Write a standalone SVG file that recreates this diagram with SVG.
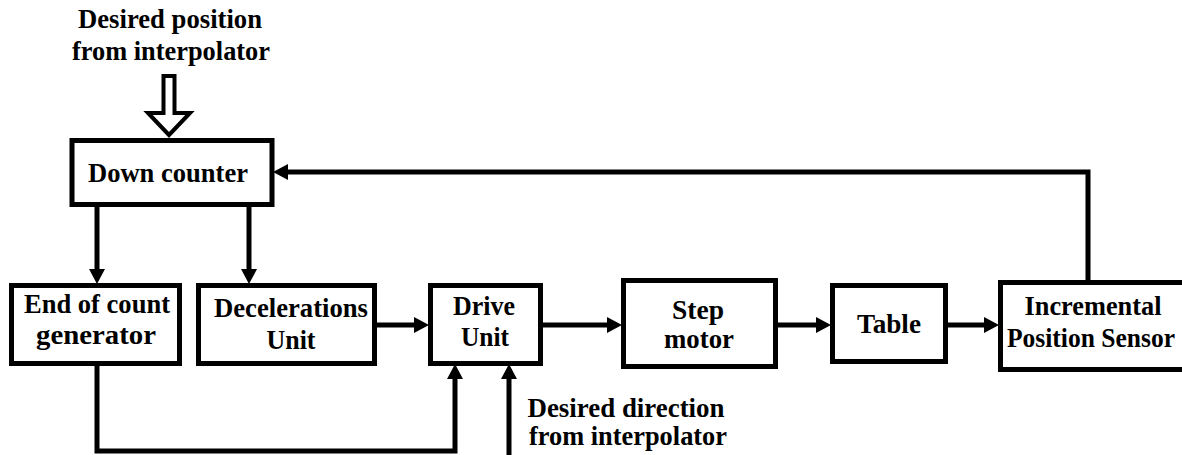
<svg xmlns="http://www.w3.org/2000/svg" width="1182" height="455" viewBox="0 0 1182 455">
<style>
  .box { fill: #fff; stroke: #000; stroke-width: 5; }
  .ln { fill: none; stroke: #000; stroke-width: 5; }
  .hd { fill: #000; stroke: none; }
  text { font-family: "Liberation Serif", "Times New Roman", serif; font-weight: bold; font-size: 28px; fill: #000; text-anchor: middle; }
</style>
<rect width="1182" height="455" fill="#fff"/>

<g id="input-position">
  <text x="170" y="28" textLength="184" lengthAdjust="spacingAndGlyphs">Desired position</text>
  <text x="171" y="60" textLength="198" lengthAdjust="spacingAndGlyphs">from interpolator</text>
  <polygon points="163.5,76 174.5,76 174.5,113 190,113 169,135 148,113 163.5,113" fill="#fff" stroke="#000" stroke-width="4"/>
</g>

<g id="down-counter">
  <rect class="box" x="72" y="140.5" width="200" height="64"/>
  <text x="168" y="182" textLength="160" lengthAdjust="spacingAndGlyphs">Down counter</text>
</g>

<g id="end-of-count">
  <rect class="box" x="11.5" y="285.5" width="168" height="78"/>
  <text x="97" y="313" textLength="146" lengthAdjust="spacingAndGlyphs">End of count</text>
  <text x="96" y="344" textLength="120" lengthAdjust="spacingAndGlyphs">generator</text>
</g>

<g id="decelerations">
  <rect class="box" x="198.5" y="285.5" width="176" height="78"/>
  <text x="291" y="317" textLength="154" lengthAdjust="spacingAndGlyphs">Decelerations</text>
  <text x="291" y="349" textLength="49" lengthAdjust="spacingAndGlyphs">Unit</text>
</g>

<g id="drive">
  <rect class="box" x="430.5" y="285.5" width="110" height="78"/>
  <text x="484" y="315" textLength="62" lengthAdjust="spacingAndGlyphs">Drive</text>
  <text x="485" y="346" textLength="48" lengthAdjust="spacingAndGlyphs">Unit</text>
</g>

<g id="step-motor">
  <rect class="box" x="623.5" y="280.5" width="152" height="86"/>
  <text x="698" y="319" textLength="52" lengthAdjust="spacingAndGlyphs">Step</text>
  <text x="699" y="348" textLength="70" lengthAdjust="spacingAndGlyphs">motor</text>
</g>

<g id="table">
  <rect class="box" x="832.5" y="285.5" width="113" height="76"/>
  <text x="889" y="333" textLength="64" lengthAdjust="spacingAndGlyphs">Table</text>
</g>

<g id="sensor">
  <rect class="box" x="1000.5" y="282.5" width="184" height="87"/>
  <text x="1093" y="315" textLength="137" lengthAdjust="spacingAndGlyphs">Incremental</text>
  <text x="1091" y="347" font-size="25" textLength="168" lengthAdjust="spacingAndGlyphs">Position Sensor</text>
</g>

<g id="input-direction">
  <text x="626" y="417" textLength="197" lengthAdjust="spacingAndGlyphs">Desired direction</text>
  <text x="628" y="445" textLength="198" lengthAdjust="spacingAndGlyphs">from interpolator</text>
</g>

<g id="connectors">
  <line class="ln" x1="97" y1="207" x2="97" y2="271"/>
  <polygon class="hd" points="89,269 105,269 97,284"/>
  <line class="ln" x1="249" y1="207" x2="249" y2="271"/>
  <polygon class="hd" points="241,269 257,269 249,284"/>
  <line class="ln" x1="377" y1="325" x2="416" y2="325"/>
  <polygon class="hd" points="414,317 414,333 429,325"/>
  <line class="ln" x1="543" y1="325" x2="609" y2="325"/>
  <polygon class="hd" points="607,317 607,333 622,325"/>
  <line class="ln" x1="778" y1="325" x2="818" y2="325"/>
  <polygon class="hd" points="816,317 816,333 831,325"/>
  <line class="ln" x1="948" y1="325" x2="986" y2="325"/>
  <polygon class="hd" points="984,317 984,333 999,325"/>
  <path class="ln" d="M1088,281 V172 H286"/>
  <polygon class="hd" points="288,164 288,180 273,172"/>
  <path class="ln" d="M97,366 V451 H455 V377"/>
  <polygon class="hd" points="447,379 463,379 455,364"/>
  <path class="ln" d="M509,455 V377"/>
  <polygon class="hd" points="501,379 517,379 509,364"/>
</g>
</svg>
